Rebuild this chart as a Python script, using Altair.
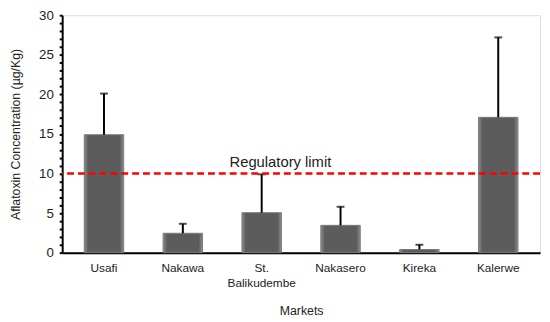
import altair as alt
import pandas as pd

markets = ["Usafi", "Nakawa", "St. Balikudembe", "Nakasero", "Kireka", "Kalerwe"]
means = [14.9, 2.45, 5.05, 3.45, 0.4, 17.1]
uppers = [20.1, 3.65, 9.9, 5.8, 1.0, 27.2]
limit = 10
y_ticks = list(range(0, 31))

df = pd.DataFrame({"market": markets, "mean": means, "upper": uppers})

FONT = "Liberation Sans"

x_enc = alt.X(
    "market:N",
    sort=markets,
    scale=alt.Scale(paddingInner=0.5, paddingOuter=0.28),
    axis=alt.Axis(
        title="Markets",
        labelAngle=0,
        labelExpr="split(datum.label, ' ')",
        labelLineHeight=15,
        labelFontSize=12,
        labelColor="#222222",
        labelPadding=10,
        ticks=False,
        domainColor="#000000",
        domainWidth=2,
        titleFontSize=12.5,
        titleFontWeight="normal",
        titleColor="#222222",
        titlePadding=17,
    ),
)

y_scale = alt.Scale(domain=[0, 30], nice=False)

bars = alt.Chart(df).mark_bar(
    color={
        "gradient": "linear",
        "x1": 0, "x2": 1, "y1": 0, "y2": 0,
        "stops": [
            {"offset": 0, "color": "#8c8c8c"},
            {"offset": 0.1, "color": "#5c5c5c"},
            {"offset": 0.9, "color": "#5c5c5c"},
            {"offset": 1, "color": "#8c8c8c"},
        ],
    },
    stroke="#7a7a7a",
    strokeWidth=1,
).encode(
    x=x_enc,
    y=alt.Y(
        "mean:Q",
        scale=y_scale,
        axis=alt.Axis(
            title="Aflatoxin Concentration (µg/Kg)",
            values=y_ticks,
            tickCount=len(y_ticks),
            labelExpr="datum.value % 5 == 0 ? datum.label : ''",
            labelOverlap=False,
            labelFlush=False,
            grid=False,
            tickSize=3,
            tickWidth=2,
            tickColor="#000000",
            domainColor="#000000",
            domainWidth=2,
            labelFontSize=13.5,
            labelColor="#222222",
            labelPadding=6,
            titleFontSize=12.5,
            titleFontWeight="normal",
            titleColor="#222222",
            titlePadding=16,
        ),
    ),
)

err = alt.Chart(df).mark_rule(color="#000000", strokeWidth=2).encode(
    x=alt.X("market:N", sort=markets),
    y="mean:Q",
    y2="upper:Q",
)

caps = alt.Chart(df).mark_tick(color="#000000", thickness=2, size=8, orient="horizontal").encode(
    x=alt.X("market:N", sort=markets),
    y="upper:Q",
)

ldf = pd.DataFrame({"limit": [limit]})
rule = alt.Chart(ldf).mark_rule(color="#ff0000", strokeWidth=2.5, strokeDash=[7, 4]).encode(
    y="limit:Q"
)

label = alt.Chart(pd.DataFrame({"limit": [limit], "market": ["St. Balikudembe"], "text": ["Regulatory limit"]})).mark_text(
    fontSize=15, color="#222222", baseline="bottom", dx=19, dy=-4, font=FONT
).encode(
    x=alt.X("market:N", sort=markets),
    y="limit:Q",
    text="text:N",
)

chart = alt.layer(bars, err, caps, rule, label).properties(
    width=485,
    height=241,
    autosize=alt.AutoSizeParams(type="none"),
    padding={"left": 55, "top": 5, "right": 2, "bottom": 66},
).configure_view(stroke=None).configure(font=FONT)

chart.save("out.html", embed_options={"renderer": "svg", "actions": False})
